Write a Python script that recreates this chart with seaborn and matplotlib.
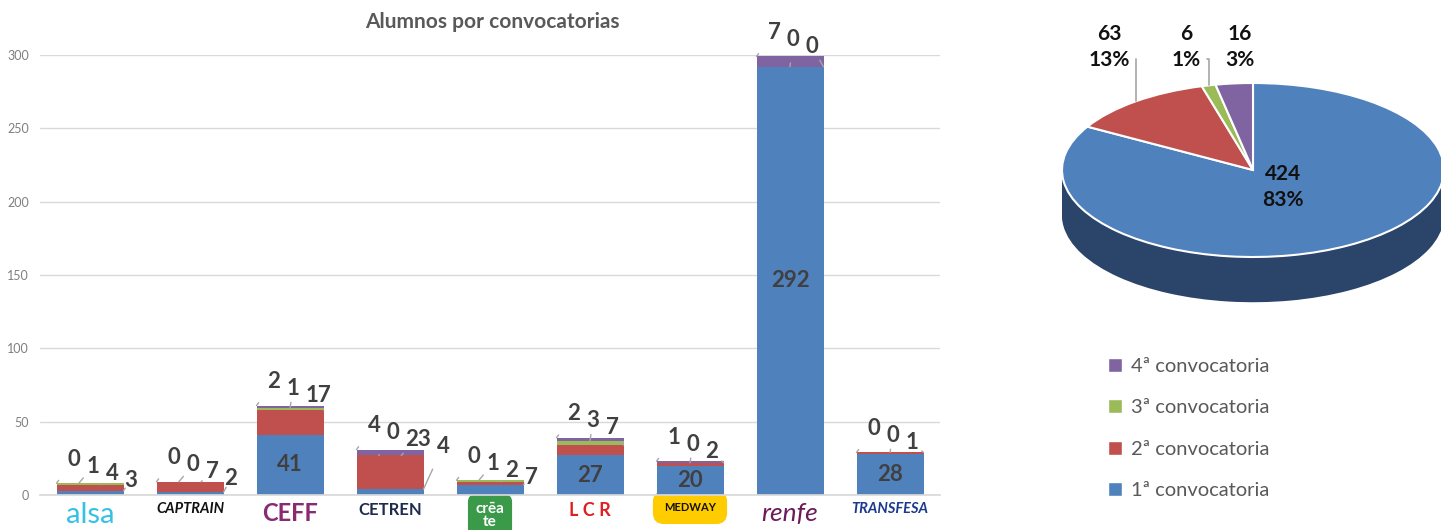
import matplotlib
matplotlib.use("Agg")
import matplotlib.pyplot as plt
import matplotlib.transforms as mtransforms
from matplotlib.patches import Patch
import numpy as np
import pandas as pd
import seaborn as sns

# datos
empresas = ["alsa", "CAPTRAIN", "CEFF", "CETREN", "crēa\nte", "L C R", "MEDWAY", "renfe", "TRANSFESA"]
conv1 = [3, 2, 41, 4, 7, 27, 20, 292, 28]
conv2 = [4, 7, 17, 23, 2, 7, 2, 0, 1]
conv3 = [1, 0, 1, 0, 1, 3, 0, 0, 0]
conv4 = [0, 0, 2, 4, 0, 2, 1, 7, 0]
series = ["1ª convocatoria", "2ª convocatoria", "3ª convocatoria", "4ª convocatoria"]
pie_valores = [424, 63, 6, 16]
pie_pct = [83, 13, 1, 3]

colores = ["#4f81bd", "#c0504d", "#9bbb59", "#8064a2"]
lados = ["#2a446a", "#7e3331", "#62783a", "#53416b"]
gris = "#595959"

sns.set_theme(style="white")
plt.rcParams["font.family"] = ["Lato", "DejaVu Sans"]

fig = plt.figure(figsize=(14.41, 5.30), dpi=100)
ax = fig.add_axes([40 / 1441, 35 / 530, 900 / 1441, 440 / 530])

valores = [conv1, conv2, conv3, conv4]
df = pd.DataFrame({"empresa": empresas, "c1": conv1, "c2": conv2, "c3": conv3, "c4": conv4})
acum = df[["c1", "c2", "c3", "c4"]].cumsum(axis=1)

# barras apiladas: se dibuja primero el acumulado mayor
for k in range(3, -1, -1):
    sns.barplot(x=df["empresa"], y=acum.iloc[:, k], color=colores[k], width=0.67,
                linewidth=0, saturation=1, ax=ax)

ax.set_ylim(0, 300)
ax.set_xlim(-0.5, len(empresas) - 0.5)
ax.set_yticks(range(0, 301, 50))
ax.yaxis.grid(True, color="#d9d9d9", lw=1)
ax.set_axisbelow(True)
for s in ["top", "right", "left"]:
    ax.spines[s].set_visible(False)
ax.spines["bottom"].set_color("#d9d9d9")
ax.tick_params(axis="y", labelsize=9, labelcolor="#7f7f7f", length=0, pad=8)
ax.tick_params(axis="x", length=0, pad=5)
ax.set_xlabel("")
ax.set_ylabel("")

# etiquetas del eje x imitando los logotipos
estilos = [
    dict(color="#35c0e6", fontsize=21),
    dict(color="#111111", fontsize=10.5, fontweight="bold", fontstyle="italic"),
    dict(color="#8a2a72", fontsize=17, fontweight="bold"),
    dict(color="#1f2b4d", fontsize=12, fontweight="bold"),
    dict(color="white", fontsize=11, fontweight="bold", linespacing=0.9,
         bbox=dict(boxstyle="round,pad=0.5", fc="#3a9a4a", ec="none")),
    dict(color="#e02020", fontsize=13, fontweight="bold"),
    dict(color="#111111", fontsize=8, fontweight="bold",
         bbox=dict(boxstyle="round,pad=1.0", fc="#ffcc00", ec="none")),
    dict(color="#6d1a5a", fontsize=19, fontstyle="italic"),
    dict(color="#1b3a8c", fontsize=10.5, fontweight="bold", fontstyle="italic"),
]
ax.set_xticks(range(len(empresas)))
ax.set_xticklabels(empresas)
for lab, est in zip(ax.get_xticklabels(), estilos):
    lab.set(**est)

# etiquetas de datos
etq = dict(fontsize=16, fontweight="bold", color="#404040")
for i in range(len(empresas)):
    tops = acum.iloc[i].values
    total = tops[-1]
    dentro = conv1[i] >= 15
    fuera = [3, 2, 1] if dentro else [3, 2, 1, 0]
    dx, dy = -16, 24
    prev = None
    for k, s in enumerate(fuera):
        txt = str(valores[s][i])
        if prev is not None:
            dx += 6 * len(prev) + 6 * len(txt) + 7
            dy -= 7
        prev = txt
        frac = k / (len(fuera) - 1)
        xp = i - 0.335 + 0.67 * frac
        tr = mtransforms.offset_copy(ax.transData, fig=fig, x=dx, y=dy, units="dots")
        ax.annotate(txt, xy=(xp, tops[s]), xytext=(i, total), textcoords=tr,
                    ha="center", va="center", annotation_clip=False,
                    arrowprops=dict(arrowstyle="-", color="#a6a6a6", lw=1,
                                    shrinkA=7, shrinkB=0), **etq)
    if dentro:
        ax.text(i, conv1[i] / 2, str(conv1[i]), ha="center", va="center", **etq)

fig.text(492 / 1441, 1 - 22 / 530, "Alumnos por convocatorias", ha="center", va="center",
         fontsize=15, fontweight="bold", color=gris)

# tarta con aspecto 3D
pax = fig.add_axes([1040 / 1441, 1 - 330 / 530, 401 / 1441, 330 / 530])
prof = 0.52
for off in np.linspace(-prof, -0.01, 28):
    pax.pie(pie_valores, colors=lados, startangle=90, counterclock=False,
            center=(0, off), wedgeprops=dict(linewidth=0))
pax.pie(pie_valores, colors=colores, startangle=90, counterclock=False,
        center=(0, 0), wedgeprops=dict(edgecolor="white", linewidth=1.5))
pax.set_aspect("auto")
pax.set_xlim(-(1253 - 1040) / 191, (1441 - 1253) / 191)
pax.set_ylim(-(330 - 170) / 87, 170 / 87)
pax.axis("off")

ptxt = dict(fontsize=15, fontweight="bold", color="#111111", ha="center", va="center",
            linespacing=1.4)
pax.text(0.157, -0.195, f"{pie_valores[0]}\n{pie_pct[0]}%", **ptxt)
fracs = np.array(pie_valores) / sum(pie_valores)
bordes = 90 - 360 * np.concatenate([[0], np.cumsum(fracs)])
pos_lab = [(-0.754, 1.414), (-0.351, 1.414), (-0.068, 1.414)]
for j in range(1, 4):
    mid = np.deg2rad((bordes[j] + bordes[j + 1]) / 2)
    flecha = None
    if j < 3:
        flecha = dict(arrowstyle="-", color="#a6a6a6", lw=1.2, relpos=(1, 0.25),
                      connectionstyle="angle,angleA=0,angleB=90", shrinkA=2, shrinkB=0)
    pax.annotate(f"{pie_valores[j]}\n{pie_pct[j]}%", xy=(np.cos(mid), np.sin(mid)),
                 xytext=pos_lab[j - 1], arrowprops=flecha, annotation_clip=False, **ptxt)

handles = [Patch(facecolor=colores[k], label=series[k]) for k in range(3, -1, -1)]
fig.legend(handles=handles, loc="upper left", bbox_to_anchor=(1090 / 1441, 1 - 340 / 530),
           frameon=False, fontsize=14.5, handlelength=0.7, handleheight=0.7,
           handletextpad=0.45, labelspacing=1.2, labelcolor=gris)

fig.savefig("out.png", dpi=100)
